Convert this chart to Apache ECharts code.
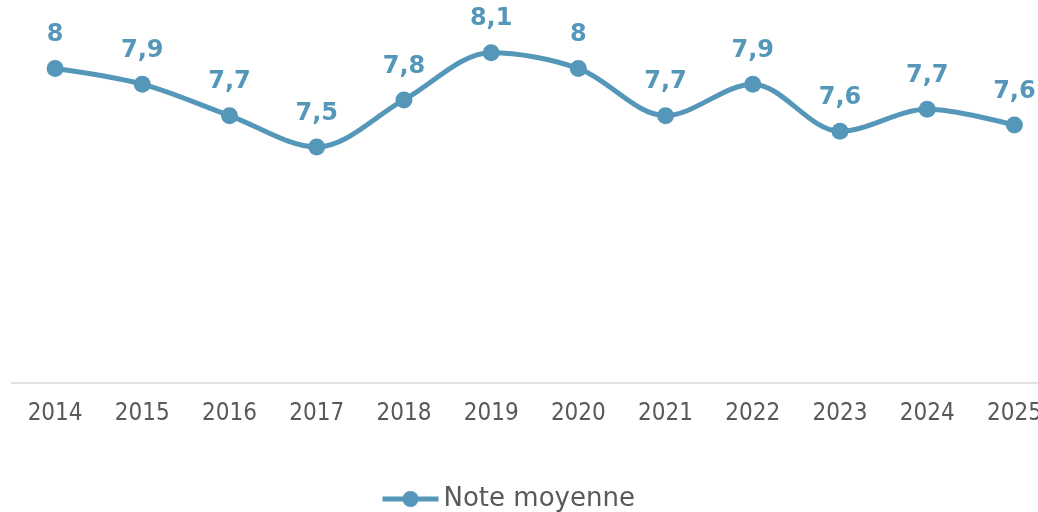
<!DOCTYPE html>
<html>
<head>
<meta charset="utf-8">
<script src="https://cdn.jsdelivr.net/npm/echarts@6/dist/echarts.min.js"></script>
<style>
  html, body { margin: 0; padding: 0; background: #fff; overflow: hidden; }
  /* the plot runs past the right edge of the window, so the last label is clipped */
  #chart { width: 1058px; height: 512px; }
</style>
</head>
<body>
<div id="chart"></div>
<script>
const years = ['2014', '2015', '2016', '2017', '2018', '2019', '2020', '2021', '2022', '2023', '2024', '2025']
const noteMoyenne = [8.0, 7.9, 7.7, 7.5, 7.8, 8.1, 8.0, 7.7, 7.9, 7.6, 7.74, 7.64]

const lineColor = '#5597b8'
const textColor = '#595959'

const chart = echarts.init(document.getElementById('chart'))
chart.setOption({
  backgroundColor: '#fff',
  animation: false,
  grid: {
    left: 11.5,
    right: 0,
    top: 37,
    bottom: 129
  },
  legend: {
    top: 481,
    left: 375,
    itemWidth: 56,
    itemHeight: 20,
    itemGap: 4,
    lineStyle: { width: 5 },
    textStyle: {
      fontFamily: 'DejaVu Sans',
      fontSize: 26,
      color: textColor
    },
    data: ['Note moyenne']
  },
  xAxis: {
    type: 'category',
    data: years,
    boundaryGap: true,
    axisLine: {
      show: true,
      lineStyle: { color: '#d9d9d9', width: 1.5 }
    },
    axisTick: { show: false },
    axisLabel: {
      margin: 19,
      fontFamily: 'DejaVu Sans Condensed',
      fontSize: 24,
      color: textColor
    }
  },
  yAxis: {
    type: 'value',
    min: 6,
    max: 8.2,
    show: false,
    splitLine: { show: false }
  },
  series: [{
    name: 'Note moyenne',
    type: 'line',
    data: noteMoyenne,
    smooth: 0.33,
    symbol: 'circle',
    symbolSize: 17,
    lineStyle: { color: lineColor, width: 5 },
    itemStyle: { color: lineColor },
    label: {
      show: true,
      position: 'top',
      distance: 13,
      fontFamily: 'DejaVu Sans',
      fontWeight: 'bold',
      fontSize: 24,
      color: lineColor,
      formatter(p) {
        const v = Math.round(p.value * 10) / 10
        return String(v).replace('.', ',')
      }
    }
  }]
})
</script>
</body>
</html>
